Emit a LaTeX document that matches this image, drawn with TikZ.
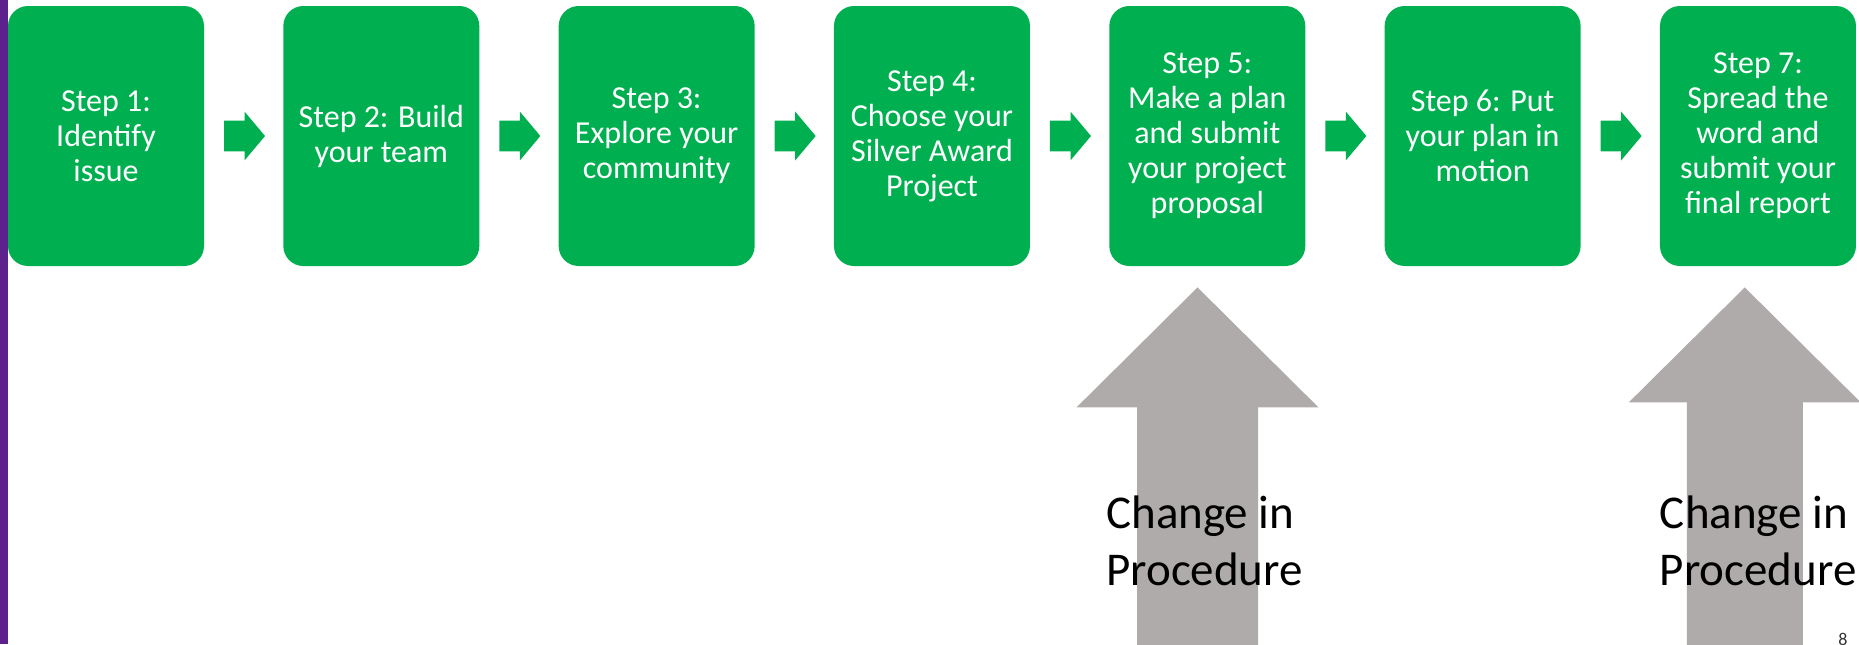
\documentclass[tikz,border=0pt]{standalone}
\usepackage{fontspec}
\setmainfont{Carlito}
\usetikzlibrary{positioning}
\usetikzlibrary{shapes.arrows}

\definecolor{stepgreen}{RGB}{0,176,80}
\definecolor{procgray}{RGB}{175,171,171}
\definecolor{sidepurple}{RGB}{92,33,140}

\tikzset{
    stepbox/.style={fill=stepgreen, rounded corners=10pt, minimum width=98pt,
        minimum height=130pt, inner sep=0pt, text=white, align=center,
        font=\fontsize{16}{17.5}\selectfont},
    flow/.style={single arrow, fill=stepgreen, minimum height=20.5pt,
        inner xsep=0pt, inner ysep=7.5pt, single arrow head extend=4.5pt,
        single arrow tip angle=100},
    procarrow/.style={fill=procgray},
    procnote/.style={align=left, inner sep=0pt, text=black,
        font=\fontsize{23.5}{28.5}\selectfont}
}

\begin{document}
\begin{tikzpicture}
        \useasboundingbox (0,0) rectangle (929.5pt,-322pt);
        \fill[sidepurple] (0,0) rectangle (4pt,-322pt);

        \node(s1) [stepbox] at (53pt,-68pt) {Step 1:\\Identify\\issue};
        \node(a1) [flow, right=9.6pt of s1] {};
        \node(s2) [stepbox, right=8.7pt of a1] {Step 2: Build\\your team};
        \node(a2) [flow, right=9.6pt of s2] {};
        \node(s3) [stepbox, right=8.7pt of a2] {Step 3:\\Explore your\\community};
        \node(a3) [flow, right=9.6pt of s3] {};
        \node(s4) [stepbox, right=8.7pt of a3] {Step 4:\\Choose your\\Silver Award\\Project};
        \node(a4) [flow, right=9.6pt of s4] {};
        \node(s5) [stepbox, right=8.7pt of a4] {Step 5:\\Make a plan\\and submit\\your project\\proposal};
        \node(a5) [flow, right=9.6pt of s5] {};
        \node(s6) [stepbox, right=8.7pt of a5] {Step 6: Put\\your plan in\\motion};
        \node(a6) [flow, right=9.6pt of s6] {};
        \node(s7) [stepbox, right=8.7pt of a6] {Step 7:\\Spread the\\word and\\submit your\\final report};

        \coordinate(t5) at ([xshift=-4.9pt,yshift=-10.5pt]s5.south);
        \coordinate(t7) at ([xshift=-6.6pt,yshift=-10.5pt]s7.south);

        \fill[procarrow] (t5) -- ++(60.5pt,-60pt) -- ++(-30.25pt,0) -- ++(0,-125pt)
            -- ++(-60.5pt,0) -- ++(0,125pt) -- ++(-30.25pt,0) -- cycle;
        \fill[procarrow] (t7) -- ++(58pt,-57.5pt) -- ++(-29pt,0) -- ++(0,-125pt)
            -- ++(-58pt,0) -- ++(0,125pt) -- ++(-29pt,0) -- cycle;

        \node(n5) [procnote, anchor=base west] at ([xshift=-1.5pt,yshift=-159.5pt]s5.south west) {Change in\\Procedure};
        \node(n7) [procnote, anchor=base west] at ([yshift=-159.5pt]s7.south west) {Change in\\Procedure};

        \node(pg) [anchor=north, inner sep=0pt, text=black!80, font=\fontsize{9}{10.8}\selectfont] at (921.5pt,-316.5pt) {8};
    \end{tikzpicture}
\end{document}
